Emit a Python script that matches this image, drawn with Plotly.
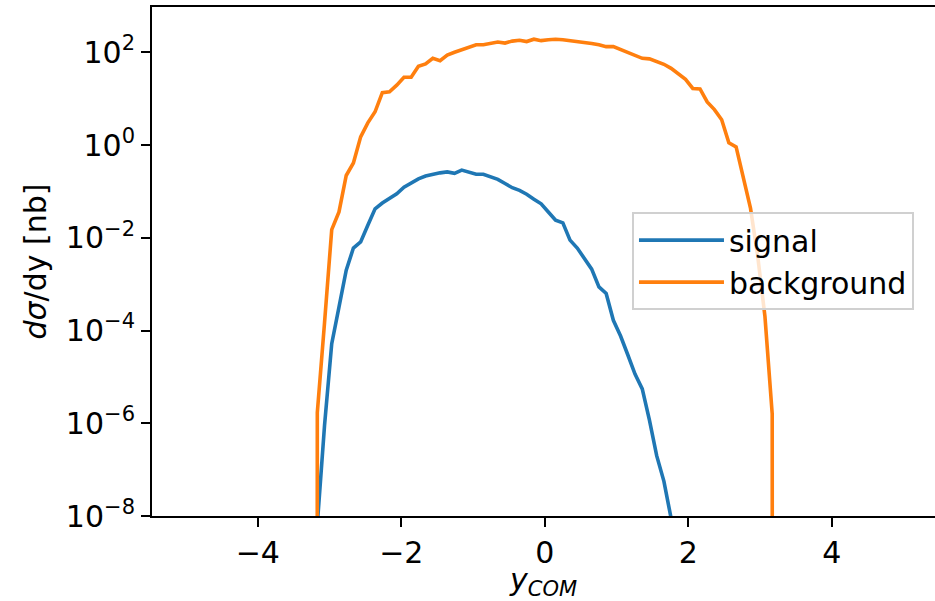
import plotly.graph_objects as go

# rapidity bin centres (y_COM)
y_com = [-3.27,
         -3.170, -3.069, -2.969, -2.868, -2.767, -2.667, -2.566, -2.466,
         -2.365, -2.264, -2.164, -2.063, -1.962, -1.862, -1.761, -1.661,
         -1.560, -1.459, -1.359, -1.258, -1.157, -1.057, -0.956, -0.856,
         -0.755, -0.654, -0.554, -0.453, -0.352, -0.252, -0.151, -0.050,
         0.050, 0.151, 0.252, 0.352, 0.453, 0.554, 0.654, 0.755,
         0.856, 0.956, 1.057, 1.157, 1.258, 1.359, 1.459, 1.560,
         1.661, 1.761, 1.862, 1.962, 2.063, 2.164, 2.264, 2.365,
         2.466, 2.566, 2.667, 2.767, 2.868, 2.969, 3.069, 3.170,
         3.27]

# dsigma/dy [nb]
signal = [0.0,
          6.6e-9, 9.1e-7, 5.2e-5, 3.2e-4, 2.0e-3, 6.0e-3, 8.1e-3, 1.86e-2,
          4.2e-2, 5.6e-2, 7.1e-2, 8.9e-2, 0.123, 0.155, 0.186, 0.214,
          0.234, 0.251, 0.263, 0.245, 0.288, 0.257, 0.234, 0.234,
          0.209, 0.182, 0.148, 0.120, 0.105, 8.7e-2, 6.8e-2, 5.4e-2,
          3.6e-2, 2.4e-2, 2.1e-2, 8.9e-3, 6.0e-3, 3.5e-3, 2.1e-3, 8.7e-4,
          6.3e-4, 1.66e-4, 7.6e-5, 3.0e-5, 1.15e-5, 5.5e-6, 1.17e-6, 2.0e-7,
          5.6e-8, 8.9e-9, 0.0, 0.0, 0.0, 0.0, 0.0, 0.0,
          0.0, 0.0, 0.0, 0.0, 0.0, 0.0, 0.0, 0.0,
          0.0]

background = [0.0,
              1.7e-6, 1.5e-4, 1.5e-2, 3.6e-2, 0.22, 0.41, 1.5, 3.0,
              5.2, 13.5, 14.0, 19.5, 29.0, 29.0, 50.0, 56.0,
              74.0, 66.0, 87.0, 100.0, 112.0, 129.0, 145.0, 145.0,
              155.0, 166.0, 158.0, 174.0, 182.0, 170.0, 191.0, 178.0,
              186.0, 191.0, 186.0, 178.0, 170.0, 166.0, 155.0, 145.0,
              132.0, 132.0, 115.0, 102.0, 87.0, 74.0, 72.0, 63.0,
              55.0, 45.0, 34.0, 26.0, 16.6, 16.2, 8.5, 5.8,
              3.5, 1.12, 0.91, 0.19, 4.3e-2, 3.9e-3, 2.0e-4, 1.6e-6,
              0.0]

series_names = ["signal", "background"]
series_colors = ["#1f77b4", "#ff7f0e"]

x_tickvals = [-4, -2, 0, 2, 4]
x_ticktext = ["\u22124", "\u22122", "0", "2", "4"]
y_exponents = [-8, -6, -4, -2, 0, 2]


def clip_nonpositive(vals):
    # emulate matplotlib's log-scale 'clip' for non-positive values
    return [v if v > 0 else 1e-300 for v in vals]


FONT = "DejaVu Sans"
FS = 30
fig = go.Figure()
for name, vals, col in zip(series_names, [signal, background], series_colors):
    fig.add_trace(go.Scatter(
        x=y_com, y=clip_nonpositive(vals), mode="lines", name=name,
        line=dict(color=col, width=3.6), cliponaxis=True,
    ))

fig.update_layout(
    width=935, height=601,
    margin=dict(l=152, r=0, t=7, b=85, pad=0),
    paper_bgcolor="white", plot_bgcolor="white",
    font=dict(family=FONT, size=FS, color="black"),
    showlegend=True,
    legend=dict(
        x=0.613, y=0.597, xanchor="left", yanchor="top",
        bgcolor="rgba(255,255,255,0.8)", bordercolor="#d0d0d0", borderwidth=2,
        font=dict(family=FONT, size=FS, color="black"),
        itemwidth=85, tracegroupgap=0,
    ),
)
fig.update_xaxes(
    range=[-5.474, 5.439], showgrid=False, zeroline=False, automargin=False,
    showline=True, linecolor="black", linewidth=2, mirror=True,
    ticks="outside", ticklen=9, tickwidth=2, tickcolor="black",
    tickvals=x_tickvals, ticktext=x_ticktext,
    tickfont=dict(family=FONT, size=FS),
    title=dict(text="<i>y</i><sub><i>COM</i></sub>", font=dict(family=FONT, size=FS), standoff=6),
)
fig.update_yaxes(
    type="log", range=[-8, 2.976], showgrid=False, zeroline=False, automargin=False,
    showline=True, linecolor="black", linewidth=2, mirror=False,
    ticks="outside", ticklen=9, tickwidth=2, tickcolor="black",
    tickvals=[10.0 ** e for e in y_exponents],
    ticktext=["10<sup>%s</sup>" % (str(e).replace("-", "\u2212")) for e in y_exponents],
    tickfont=dict(family=FONT, size=FS),
    title=dict(text="<i>d\u03c3</i>/dy [nb]", font=dict(family=FONT, size=FS), standoff=10),
)

fig.write_html(
    "out.html",
    config={"displayModeBar": False},
    post_script="document.body.style.margin='0';document.body.style.overflow='hidden';",
)
